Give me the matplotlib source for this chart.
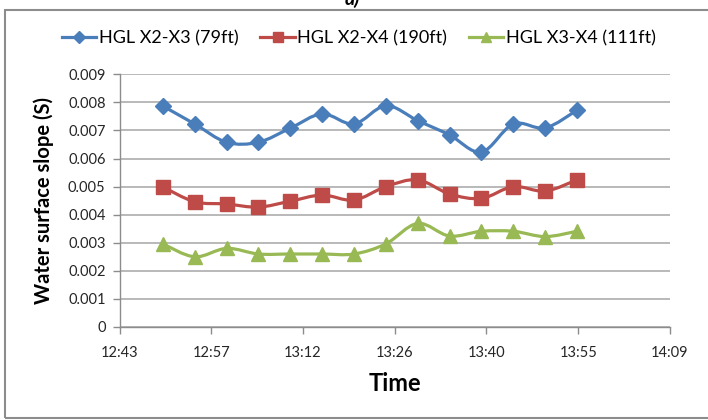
import numpy as np
import matplotlib
matplotlib.use("Agg")
import matplotlib.pyplot as plt
from matplotlib.path import Path
from matplotlib.patches import PathPatch, Rectangle
from matplotlib.lines import Line2D

plt.rcParams['font.family'] = ['Lato', 'DejaVu Sans']

# Sample times (hh:mm)
times = ["12:50", "12:55", "13:00", "13:05", "13:10", "13:15", "13:20",
         "13:25", "13:30", "13:35", "13:40", "13:45", "13:50", "13:55"]

# Water surface slope for each reach
hgl_x2_x3 = [0.00787, 0.00723, 0.00658, 0.00658, 0.00708, 0.00759, 0.00723,
             0.00788, 0.00735, 0.00684, 0.00623, 0.00723, 0.00709, 0.00772]
hgl_x2_x4 = [0.00499, 0.00446, 0.00438, 0.00427, 0.00448, 0.00470, 0.00452,
             0.00500, 0.00524, 0.00474, 0.00458, 0.00500, 0.00484, 0.00524]
hgl_x3_x4 = [0.00296, 0.00250, 0.00280, 0.00260, 0.00260, 0.00260, 0.00260,
             0.00296, 0.00369, 0.00324, 0.00341, 0.00341, 0.00322, 0.00341]

series_names = ["HGL X2-X3 (79ft)", "HGL X2-X4 (190ft)", "HGL X3-X4 (111ft)"]

# Axis ticks (fraction of a day) and their labels
x_ticks = [0.53, 0.54, 0.55, 0.56, 0.57, 0.58, 0.59]
x_tick_labels = ["12:43", "12:57", "13:12", "13:26", "13:40", "13:55", "14:09"]
y_ticks = [0, 0.001, 0.002, 0.003, 0.004, 0.005, 0.006, 0.007, 0.008, 0.009]
y_tick_labels = ["0", "0.001", "0.002", "0.003", "0.004", "0.005",
                 "0.006", "0.007", "0.008", "0.009"]


def day_fraction(t):
    h, m = t.split(":")
    return (int(h) * 60 + int(m)) / 1440.0


def smooth_path(x, y):
    """Catmull-Rom style cubic Bezier path through the points."""
    pts = np.column_stack([x, y])
    n = len(pts)
    verts = [pts[0]]
    codes = [Path.MOVETO]
    for i in range(n - 1):
        p0 = pts[i - 1] if i > 0 else pts[i]
        p1 = pts[i]
        p2 = pts[i + 1]
        p3 = pts[i + 2] if i + 2 < n else pts[i + 1]
        c1 = p1 + (p2 - p0) / 6.0
        c2 = p2 - (p3 - p1) / 6.0
        verts += [c1, c2, p2]
        codes += [Path.CURVE4] * 3
    return Path(verts, codes)


W, H = 708, 420
fig = plt.figure(figsize=(W / 100, H / 100), dpi=100)
ax = fig.add_axes([119.5 / W, (H - 327) / H, (670 - 119.5) / W, (327 - 74.3) / H])

x = np.array([day_fraction(t) for t in times])
colors = ["#4A7EBB", "#BE4B48", "#98B954"]
markers = ["D", "s", "^"]
msizes = [8.5, 9.5, 10]
data = [hgl_x2_x3, hgl_x2_x4, hgl_x3_x4]

for vals, c, mk, ms in zip(data, colors, markers, msizes):
    patch = PathPatch(smooth_path(x, np.array(vals)), facecolor="none",
                      edgecolor=c, lw=2.3, transform=ax.transData, zorder=3,
                      capstyle="round", joinstyle="round")
    ax.add_patch(patch)
    ax.plot(x, vals, linestyle="none", marker=mk, markersize=ms,
            color=c, markeredgecolor=c, zorder=4)

ax.set_xlim(0.53, 0.59)
ax.set_ylim(0, 0.009)
ax.set_xticks(x_ticks)
ax.set_xticklabels(x_tick_labels)
ax.set_yticks(y_ticks)
ax.set_yticklabels(y_tick_labels)

ax.grid(axis="y", color="#A6A6A6", lw=1.1)
ax.set_axisbelow(True)
for s in ["top", "right"]:
    ax.spines[s].set_visible(False)
for s in ["left", "bottom"]:
    ax.spines[s].set_color("#8C8C8C")
    ax.spines[s].set_linewidth(1.0)
ax.tick_params(axis="both", colors="#8C8C8C", labelcolor="#262626",
               labelsize=10.5, length=5, width=1)
ax.tick_params(axis="x", pad=9)
ax.tick_params(axis="y", pad=5)

ax.set_xlabel("Time", fontsize=17, fontweight="bold", labelpad=8)
ax.set_ylabel("Water surface slope (S)", fontsize=14.5, fontweight="bold",
              labelpad=10)

# Legend across the top
handles = [Line2D([], [], color=c, lw=2.3, marker=mk, markersize=ms * 0.75,
                  markeredgecolor=c)
           for c, mk, ms in zip(colors, markers, msizes)]
fig.legend(handles, series_names, loc="center", ncol=3,
           bbox_to_anchor=(359 / W, (H - 38) / H), frameon=False,
           fontsize=13, handlelength=1.9, handletextpad=0.15,
           columnspacing=1.2)

# Chart frame
fig.patches.append(Rectangle((4.5 / W, 2 / H), (W + 10) / W, (410 - 2) / H,
                             transform=fig.transFigure, fill=False,
                             edgecolor="#8C8C8C", lw=1.5))

# Panel tag
fig.text(352 / W, (H - 5) / H, "a)", fontsize=14, fontweight="bold",
         fontstyle="italic", ha="center", va="baseline")

fig.savefig("out.png", dpi=100)
